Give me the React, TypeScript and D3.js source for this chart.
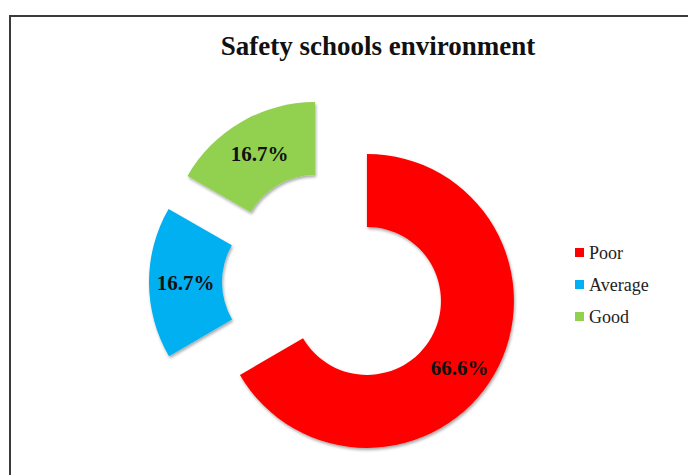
import React from "react";
import * as d3 from "d3";

const categories = ["Poor", "Average", "Good"];
const values = [66.6, 16.7, 16.7];
const labels = ["66.6%", "16.7%", "16.7%"];
const colors = ["#FF0000", "#00B0F0", "#92D050"];
const title = "Safety schools environment";

const W = 688;
const H = 475;

export default function App() {
  const cx = 334;
  const cy = 282;
  const inner = 74;
  const outer = 147;
  const explode = 38;
  // small angular nudge of the data labels (degrees), as the reference places them
  const labelNudge = [6, 0, 0];

  const pie = d3
    .pie<number>()
    .sort(null)
    .value((d) => d)
    .startAngle(0)
    .endAngle(2 * Math.PI);
  const arcs = pie(values);
  const arcGen = d3.arc<d3.PieArcDatum<number>>().innerRadius(inner).outerRadius(outer);

  const legendY = d3.scalePoint<string>().domain(categories).range([253, 317]);

  return (
    <svg
      width={W}
      height={H}
      style={{ position: "absolute", left: 0, top: 0, background: "#fff" }}
      fontFamily="'Liberation Serif', 'Times New Roman', serif"
    >
      <defs>
        <filter id="shadow" x="-20%" y="-20%" width="140%" height="140%">
          <feDropShadow dx="1" dy="2" stdDeviation="1.6" floodColor="#000" floodOpacity="0.35" />
        </filter>
      </defs>
      <rect x={10} y={16} width={W + 20} height={H + 20} fill="#fff" stroke="#3a3a3a" strokeWidth={2} />
      <text x={378} y={55} textAnchor="middle" fontSize={27} fontWeight="bold" fill="#111">
        {title}
      </text>
      {arcs.map((a, i) => {
        const mid = (a.startAngle + a.endAngle) / 2;
        const ox = Math.sin(mid) * explode;
        const oy = -Math.cos(mid) * explode;
        const la = mid + (labelNudge[i] * Math.PI) / 180;
        const lr = (inner + outer) / 2 + (labelNudge[i] ? 4 : 0);
        const lx = Math.sin(la) * lr;
        const ly = -Math.cos(la) * lr;
        return (
          <g key={categories[i]} transform={`translate(${cx + ox},${cy + oy})`}>
            <path d={arcGen(a) || ""} fill={colors[i]} filter="url(#shadow)" />
            <text x={lx} y={ly} dy="0.35em" textAnchor="middle" fontSize={21} fontWeight="bold" fill="#111">
              {labels[i]}
            </text>
          </g>
        );
      })}
      {categories.map((c, i) => (
        <g key={c} transform={`translate(575,${legendY(c)})`}>
          <rect x={0} y={-5} width={9} height={9} fill={colors[i]} />
          <text x={14} y={0} dy="0.35em" fontSize={18} fill="#222">
            {c}
          </text>
        </g>
      ))}
    </svg>
  );
}
